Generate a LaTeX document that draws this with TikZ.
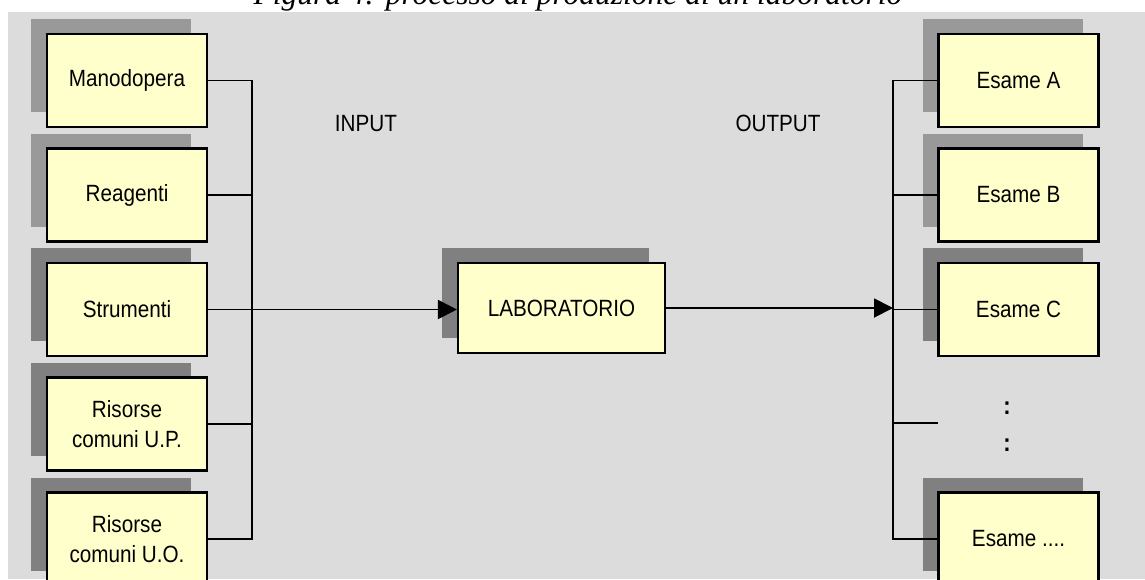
\documentclass[tikz,border=0pt]{standalone}
\usepackage{fontspec}
\setmainfont{Liberation Sans}
\newfontfamily\boxfont[FakeStretch=0.88]{Liberation Sans}
\newfontfamily\titlefont{Liberation Serif}
\usetikzlibrary{arrows.meta,shadows}
\definecolor{bg}{HTML}{DCDCDC}
\definecolor{boxy}{HTML}{FFFFCC}
\definecolor{shA}{HTML}{999999}
\definecolor{shB}{HTML}{808080}
\tikzset{
  bx/.style={draw=black, line width=2.1pt, fill=boxy, minimum width=160pt, minimum height=93pt,
    inner sep=0pt, align=center, font=\boxfont\fontsize{23.5}{30.7}\selectfont},
  shlight/.style={general shadow={fill=shA, shadow xshift=-16pt, shadow yshift=15pt}},
  shdark/.style={general shadow={fill=shB, shadow xshift=-16pt, shadow yshift=15pt}},
  wire/.style={line width=1.9pt, black},
  arr/.style={wire, -{Triangle[length=19pt,width=19pt]}},
  lbl/.style={font=\boxfont\fontsize{23.5}{30.7}\selectfont, inner sep=0pt, anchor=base}
}
\begin{document}
\begin{tikzpicture}[x=1pt,y=-1pt]
\useasboundingbox (0,0) rectangle (1145,579);
\fill[bg] (8,12) rectangle (1145,579);
\node[anchor=base, inner sep=0pt, font=\titlefont\itshape\fontsize{31.5}{38}\selectfont] (title) at (578,4) {Figura 4: processo di produzione di un laboratorio};

% input boxes
\node[bx, shlight] (m) at (127,80.5) {Manodopera};
\node[bx, shlight] (r) at (127,195) {Reagenti};
\node[bx, shdark] (s) at (127,309.5) {Strumenti};
\node[bx, shdark] (up) at (127,424) {Risorse\\comuni U.P.};
\node[bx, shdark] (uo) at (127,539) {Risorse\\comuni U.O.};

% laboratorio
\node[bx, shdark, minimum width=207pt, minimum height=90pt] (lab) at (561.5,308) {LABORATORIO};

% output boxes
\node[bx, shlight] (ea) at (1018.5,80.5) {Esame A};
\node[bx, shlight] (eb) at (1018.5,195) {Esame B};
\node[bx, shdark] (ec) at (1018.5,309.5) {Esame C};
\node[bx, shdark] (ee) at (1018.5,539) {Esame ....};

% labels
\node[lbl] (in) at (366,131) {INPUT};
\node[lbl] (out) at (778,131) {OUTPUT};
\node[lbl, font=\boxfont\bfseries\fontsize{25}{30.7}\selectfont] (d1) at (1007,414) {:};
\node[lbl, font=\boxfont\bfseries\fontsize{25}{30.7}\selectfont] (d2) at (1007,451) {:};

% buses
\coordinate (lbus) at (252,0);
\coordinate (rbus) at (893,0);
\coordinate (stub) at (938,423);

\draw[wire] (m.east) -| (uo.east -| lbus) -- (uo.east);
\draw[wire] (r.east) -- (r.east -| lbus);
\draw[wire] (up.east) -- (up.east -| lbus);
\draw[arr] (s.east) -- (s.east -| lab.west);

\draw[arr] (lab.east) -- (lab.east -| rbus);
\draw[wire] (ea.west) -| (ee.west -| rbus) -- (ee.west);
\draw[wire] (eb.west) -- (eb.west -| rbus);
\draw[wire] (ec.west) -- (ec.west -| rbus);
\draw[wire] (stub -| rbus) -- (stub);
\end{tikzpicture}
\end{document}
